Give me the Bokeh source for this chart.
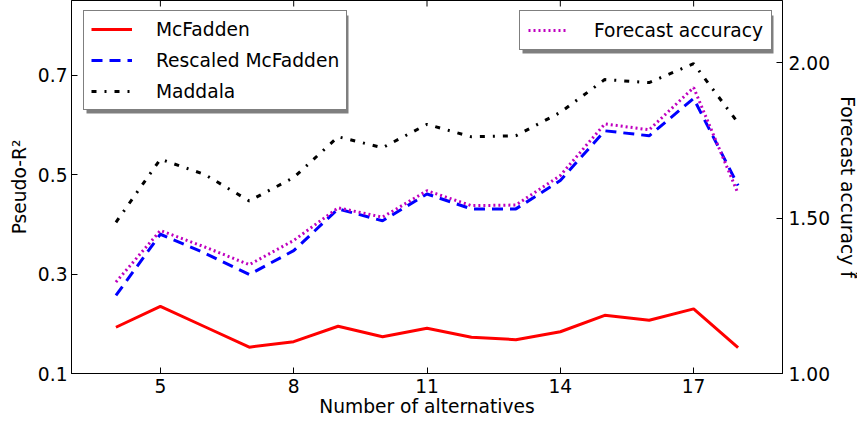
import math
from bokeh.plotting import figure
from bokeh.models import (Range1d, LinearAxis, FixedTicker, Legend, LegendItem,
                          BoxAnnotation, NumeralTickFormatter)
from bokeh.embed import file_html
from bokeh.resources import INLINE

# ---- data ----
alternatives = [4, 5, 6, 7, 8, 9, 10, 11, 12, 13, 14, 15, 16, 17, 18]
mcfadden = [0.193, 0.235, 0.194, 0.153, 0.164, 0.195, 0.174, 0.191, 0.173, 0.168, 0.184, 0.217, 0.207, 0.230, 0.152]
rescaled_mcfadden = [0.257, 0.380, 0.342, 0.299, 0.347, 0.431, 0.407, 0.461, 0.431, 0.431, 0.488, 0.588, 0.578, 0.653, 0.478]
maddala = [0.404, 0.531, 0.500, 0.447, 0.494, 0.576, 0.554, 0.601, 0.576, 0.578, 0.625, 0.691, 0.685, 0.723, 0.604]
forecast_accuracy = [1.294, 1.460, 1.407, 1.350, 1.428, 1.533, 1.503, 1.588, 1.540, 1.542, 1.637, 1.803, 1.784, 1.920, 1.579]

x_ticks = [5, 8, 11, 14, 17]
left_ticks = [0.1, 0.3, 0.5, 0.7]
right_ticks = [1.0, 1.5, 2.0]

FONT = "DejaVu Sans"
FS = "14pt"

p = figure(frame_width=711, frame_height=373, output_backend="svg", toolbar_location=None,
           x_range=Range1d(3, 19), y_range=Range1d(0.1, 0.85),
           min_border_left=71, min_border_right=75, min_border_top=0, min_border_bottom=51,
           x_axis_label="Number of alternatives", y_axis_label="Pseudo-R²")
p.extra_y_ranges = {"f": Range1d(1.0, 2.2)}
p.grid.visible = False
p.outline_line_color = "black"
p.outline_line_width = 1
p.background_fill_color = "white"
p.border_fill_color = "white"

def style_axis(ax):
    ax.axis_line_color = "black"
    ax.major_tick_line_color = "black"
    ax.major_tick_in = 6
    ax.major_tick_out = 0
    ax.minor_tick_line_color = None
    ax.major_label_text_font = FONT
    ax.major_label_text_font_size = FS
    ax.major_label_text_color = "black"
    ax.axis_label_text_font = FONT
    ax.axis_label_text_font_size = FS
    ax.axis_label_text_font_style = "normal"
    ax.axis_label_text_color = "black"

xa = p.xaxis[0]
xa.ticker = FixedTicker(ticks=x_ticks)
style_axis(xa)
xa.major_label_standoff = 5
xa.axis_label_standoff = 0

ya = p.yaxis[0]
ya.ticker = FixedTicker(ticks=left_ticks)
style_axis(ya)
ya.major_label_standoff = 4
ya.axis_label_standoff = 5

ra = LinearAxis(y_range_name="f", ticker=FixedTicker(ticks=right_ticks),
                formatter=NumeralTickFormatter(format="0.00"),
                axis_label="Forecast accuracy f̃")
style_axis(ra)
ra.major_label_standoff = 6
ra.axis_label_standoff = 4
ra.axis_label_orientation = "vertical"
p.add_layout(ra, "right")

r_mc = p.line(alternatives, mcfadden, line_color="#ff0000", line_width=3)
r_rs = p.line(alternatives, rescaled_mcfadden, line_color="#0000ff", line_width=3, line_dash="11 7")
r_md = p.line(alternatives, maddala, line_color="black", line_width=3, line_dash="5 8 2 8")
r_fa = p.line(alternatives, forecast_accuracy, line_color="#bf00bf", line_width=3, line_dash="2 3",
              y_range_name="f")

# mirrored x ticks on the top spine
p.ray(x=x_ticks, y=[p.y_range.end] * len(x_ticks), length=6, length_units="screen",
      angle=-math.pi / 2, line_color="black", line_width=1)

# legend shadows (decoration)
p.add_layout(BoxAnnotation(left=15, right=277, bottom=260, top=358,
                           left_units="screen", right_units="screen",
                           bottom_units="screen", top_units="screen",
                           fill_color="black", fill_alpha=0.5, line_color=None))
p.add_layout(BoxAnnotation(left=451, right=702, bottom=320, top=358,
                           left_units="screen", right_units="screen",
                           bottom_units="screen", top_units="screen",
                           fill_color="black", fill_alpha=0.5, line_color=None))

def make_legend(items, loc, glyph_w, standoff, padding, spacing):
    lg = Legend(items=items, location=loc, padding=padding, spacing=spacing, margin=0,
                glyph_width=glyph_w, glyph_height=22, label_height=22,
                label_standoff=standoff,
                label_text_font=FONT, label_text_font_size=FS, label_text_color="black",
                border_line_color="black", border_line_width=1,
                background_fill_color="white", background_fill_alpha=1.0)
    return lg

leg1 = make_legend([LegendItem(label="McFadden", renderers=[r_mc]),
                    LegendItem(label="Rescaled McFadden", renderers=[r_rs]),
                    LegendItem(label="Maddala", renderers=[r_md])],
                   (12, 263), 41, 24, 7, 9)
leg2 = make_legend([LegendItem(label="Forecast accuracy", renderers=[r_fa])],
                   (448, 323), 40, 26, 8, 0)
p.add_layout(leg1)
p.add_layout(leg2)

open("out.html", "w").write(file_html(p, INLINE))
